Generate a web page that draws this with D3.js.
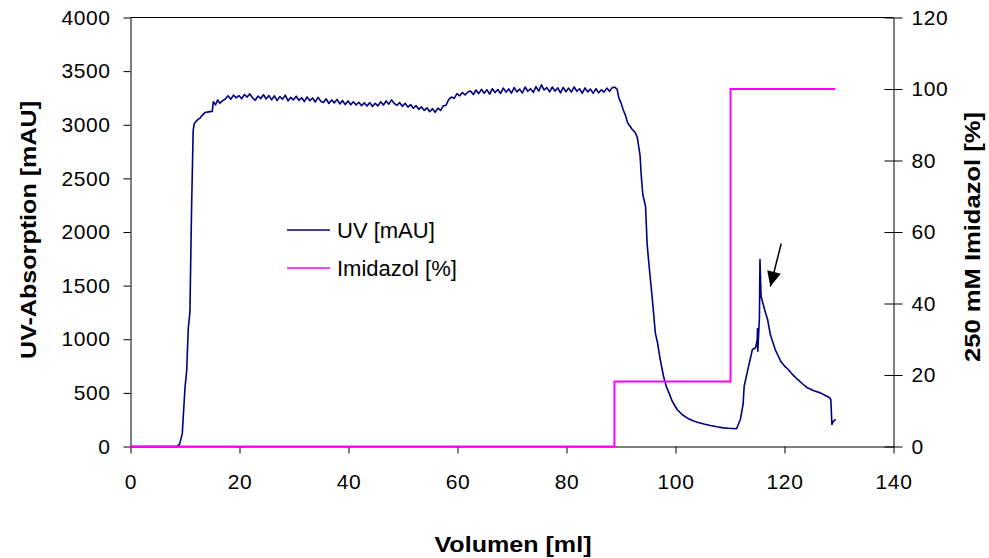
<!DOCTYPE html>
<html>
<head>
<meta charset="utf-8">
<script src="https://cdn.jsdelivr.net/npm/d3@7"></script>
<style>
  body { margin: 0; background: #fff; }
  svg { font-family: "Liberation Sans", Arial, sans-serif; }
</style>
</head>
<body>
<div id="chart"></div>
<script>
// UV trace (volume in ml, absorption in mAU)
const uvVolume = [
  0, 8.5, 9.0, 9.5, 10.0, 10.3, 10.6, 10.9, 11.2, 11.5, 11.7, 12.0, 12.4, 12.8, 13.2, 13.7, 14.3, 15.0,
  15.2, 15.6, 16.0, 16.4, 16.9, 17.4, 17.9, 18.4, 18.9, 19.4, 19.9, 20.4, 20.9, 21.4, 21.9, 22.4, 22.9,
  23.4, 23.9, 24.4, 24.9, 25.4, 25.9, 26.4, 26.9, 27.4, 27.9, 28.4, 28.9, 29.4, 29.9, 30.4, 30.9, 31.4,
  31.9, 32.4, 32.9, 33.4, 33.9, 34.4, 34.9, 35.4, 35.9, 36.4, 36.9, 37.4, 37.9, 38.4, 38.9, 39.4, 39.9,
  40.4, 40.9, 41.4, 41.9, 42.4, 42.9, 43.4, 43.9, 44.4, 44.9, 45.4, 45.9, 46.4, 46.9, 47.4, 47.9, 48.4,
  48.9, 49.4, 49.9, 50.4, 50.9, 51.4, 51.9, 52.4, 52.9, 53.4, 53.9, 54.4, 54.9, 55.4, 55.9, 56.4, 56.9,
  57.4, 57.9, 58.4, 58.9, 59.4, 59.9, 60.4, 60.9, 61.4, 61.9, 62.4, 62.9, 63.4, 63.9, 64.4, 64.9, 65.4,
  65.9, 66.4, 66.9, 67.4, 67.9, 68.4, 68.9, 69.4, 69.9, 70.4, 70.9, 71.4, 71.9, 72.4, 72.9, 73.4, 73.9,
  74.4, 74.9, 75.4, 75.9, 76.4, 76.9, 77.4, 77.9, 78.4, 78.9, 79.4, 79.9, 80.4, 80.9, 81.4, 81.9, 82.4,
  82.9, 83.4, 83.9, 84.4, 84.9, 85.4, 85.9, 86.4, 86.9, 87.4, 87.9, 88.4, 88.9, 89.3, 89.6, 90.0, 90.4,
  90.8, 91.2, 91.6, 92.0, 92.6, 93.0, 93.5, 93.7, 94.0, 94.5, 94.8, 95.1, 95.7, 96.3, 96.7, 97.2, 97.8,
  98.3, 98.8, 99.4, 100.3, 101.2, 102.4, 103.2, 104.0, 105.2, 106.4, 107.6, 108.8, 109.8, 110.5, 111.2,
  111.9, 112.4, 112.6, 113.2, 113.7, 114.1, 114.7, 115.0, 115.05, 115.1, 115.4, 115.5, 115.7, 116.1,
  116.5, 116.9, 117.4, 118.3, 119.3, 120.0, 120.7, 121.5, 122.4, 123.3, 124.2, 125.4, 126.6, 127.5,
  128.3, 128.5, 128.7, 129.0, 129.4
];
const uvValue = [
  0, 0, 20, 120, 550, 700, 1100, 1250, 2200, 2950, 3010, 3030, 3050, 3065, 3090, 3115, 3120, 3125,
  3215, 3185, 3232, 3200, 3225, 3240, 3270, 3238, 3276, 3250, 3272, 3242, 3282, 3258, 3288, 3250, 3228,
  3268, 3244, 3280, 3240, 3272, 3232, 3270, 3225, 3262, 3238, 3276, 3222, 3256, 3232, 3266, 3228, 3252,
  3216, 3260, 3224, 3250, 3212, 3256, 3220, 3208, 3242, 3198, 3232, 3204, 3236, 3194, 3226, 3188, 3222,
  3186, 3214, 3184, 3210, 3178, 3204, 3174, 3206, 3170, 3200, 3176, 3214, 3184, 3222, 3192, 3232, 3198,
  3182, 3206, 3172, 3200, 3164, 3188, 3154, 3178, 3144, 3166, 3134, 3158, 3122, 3150, 3116, 3155, 3134,
  3176, 3182, 3236, 3258, 3246, 3290, 3270, 3300, 3278, 3305, 3315, 3282, 3324, 3290, 3330, 3294, 3326,
  3286, 3336, 3300, 3328, 3292, 3342, 3304, 3334, 3294, 3346, 3306, 3332, 3296, 3352, 3312, 3336, 3302,
  3356, 3314, 3372, 3324, 3346, 3306, 3352, 3314, 3344, 3298, 3348, 3308, 3342, 3304, 3352, 3312, 3336,
  3294, 3344, 3306, 3332, 3292, 3336, 3298, 3326, 3304, 3342, 3312, 3346, 3350, 3330, 3250, 3204, 3140,
  3090, 3020, 2990, 2960, 2928, 2880, 2713, 2536, 2350, 2240, 1884, 1713, 1401, 1060, 967, 811, 655,
  562, 500, 422, 345, 298, 258, 240, 227, 210, 196, 184, 174, 170, 168, 165,
  252, 392, 562, 700, 811, 904, 920, 998, 1097, 889, 1200, 1744, 1401, 1324,
  1250, 1184, 1044, 904, 795, 750, 718, 670, 625, 585, 547, 520, 500, 475,
  454, 438, 205, 236, 252
];

// Imidazol gradient (volume in ml, percent of 250 mM)
const imidVolume = [0, 88.8, 88.8, 110.1, 110.1, 129.3];
const imidValue = [0, 0, 18.2, 18.2, 100, 100];

const xTicks = [0, 20, 40, 60, 80, 100, 120, 140];
const yLeftTicks = [0, 500, 1000, 1500, 2000, 2500, 3000, 3500, 4000];
const yRightTicks = [0, 20, 40, 60, 80, 100, 120];

const seriesNames = ["UV [mAU]", "Imidazol [%]"];
const seriesColors = ["#000080", "#ff00ff"];

// arrow pointing at the eluted peak (volume, mAU)
const arrowFrom = [119.4, 1893];
const arrowTo = [117.4, 1492];

const margin = { top: 17.5, left: 130.5 };
const width = 763;
const height = 429;

const svg = d3.select("#chart")
  .append("svg")
  .attr("width", 989)
  .attr("height", 558);

const g = svg.append("g")
  .attr("transform", `translate(${margin.left}, ${margin.top})`);

const x = d3.scaleLinear().domain([0, 140]).range([0, width]);
const yL = d3.scaleLinear().domain([0, 4000]).range([height, 0]);
const yR = d3.scaleLinear().domain([0, 120]).range([height, 0]);

const fmt = d3.format("d");

// frame top
g.append("line")
  .attr("x1", 0).attr("x2", width)
  .attr("y1", 0).attr("y2", 0)
  .attr("stroke", "#000");

// left axis
const leftAxis = g.append("g")
  .call(d3.axisLeft(yL).tickValues(yLeftTicks).tickFormat(fmt)
    .tickSizeInner(7).tickSizeOuter(0).tickPadding(13));

// right axis, ticks cross the line
const rightAxis = g.append("g")
  .attr("transform", `translate(${width}, 0)`)
  .call(d3.axisRight(yR).tickValues(yRightTicks).tickFormat(fmt)
    .tickSizeInner(9).tickSizeOuter(0).tickPadding(9));
rightAxis.selectAll(".tick").append("line")
  .attr("x2", -9)
  .attr("stroke", "#000");

// bottom axis
const bottomAxis = g.append("g")
  .attr("transform", `translate(0, ${height})`)
  .call(d3.axisBottom(x).tickValues(xTicks).tickFormat(fmt)
    .tickSizeInner(7).tickSizeOuter(0).tickPadding(21));

[leftAxis, rightAxis, bottomAxis].forEach(a => {
  a.selectAll("text")
    .style("font-family", "'Liberation Sans', Arial, sans-serif")
    .style("font-size", "21px")
    .style("letter-spacing", "0.6px")
    .attr("fill", "#000");
  a.selectAll("line, path").attr("stroke", "#000");
});

// UV line
const uvData = uvVolume.map((v, i) => [v, uvValue[i]]);
g.append("path")
  .datum(uvData)
  .attr("fill", "none")
  .attr("stroke", seriesColors[0])
  .attr("stroke-width", 1.6)
  .attr("stroke-linejoin", "round")
  .attr("d", d3.line().x(d => x(d[0])).y(d => yL(d[1])));

// Imidazol line
const imidData = imidVolume.map((v, i) => [v, imidValue[i]]);
g.append("path")
  .datum(imidData)
  .attr("fill", "none")
  .attr("stroke", seriesColors[1])
  .attr("stroke-width", 2)
  .attr("d", d3.line().x(d => x(d[0])).y(d => yR(d[1])));

// arrow
g.append("line")
  .attr("x1", x(arrowFrom[0])).attr("y1", yL(arrowFrom[1]))
  .attr("x2", x(arrowTo[0])).attr("y2", yL(arrowTo[1]))
  .attr("stroke", "#000")
  .attr("stroke-width", 1.5);
g.append("path")
  .attr("d", () => {
    // arrowhead triangle built from the arrow direction
    const tx = x(arrowTo[0]), ty = yL(arrowTo[1]);
    const dx = tx - x(arrowFrom[0]), dy = ty - yL(arrowFrom[1]);
    const len = Math.hypot(dx, dy), ux = dx / len, uy = dy / len;
    const bx = tx - ux * 15, by = ty - uy * 15;
    return `M${tx},${ty} L${bx - uy * 7},${by + ux * 7} L${bx + uy * 7},${by - ux * 7} Z`;
  })
  .attr("fill", "#000");

// legend
const legend = svg.append("g").attr("transform", "translate(287, 230)");
seriesNames.forEach((name, i) => {
  const row = legend.append("g").attr("transform", `translate(0, ${i * 38})`);
  row.append("line")
    .attr("x1", 0).attr("x2", 43)
    .attr("stroke", seriesColors[i])
    .attr("stroke-width", 1.5);
  row.append("text")
    .attr("x", 50)
    .attr("y", 8)
    .style("font-size", "22px")
    .text(name);
});

// axis titles
svg.append("text")
  .attr("x", 513).attr("y", 552)
  .attr("text-anchor", "middle")
  .style("font-size", "22px")
  .style("font-weight", "bold")
  .attr("textLength", 157)
  .attr("lengthAdjust", "spacingAndGlyphs")
  .text("Volumen [ml]");

svg.append("text")
  .attr("transform", "translate(36, 230) rotate(-90)")
  .attr("text-anchor", "middle")
  .style("font-size", "22px")
  .style("font-weight", "bold")
  .attr("textLength", 258)
  .attr("lengthAdjust", "spacingAndGlyphs")
  .text("UV-Absorption [mAU]");

svg.append("text")
  .attr("transform", "translate(980, 237) rotate(-90)")
  .attr("text-anchor", "middle")
  .style("font-size", "22px")
  .style("font-weight", "bold")
  .attr("textLength", 250)
  .attr("lengthAdjust", "spacingAndGlyphs")
  .text("250 mM Imidazol [%]");
</script>
</body>
</html>
